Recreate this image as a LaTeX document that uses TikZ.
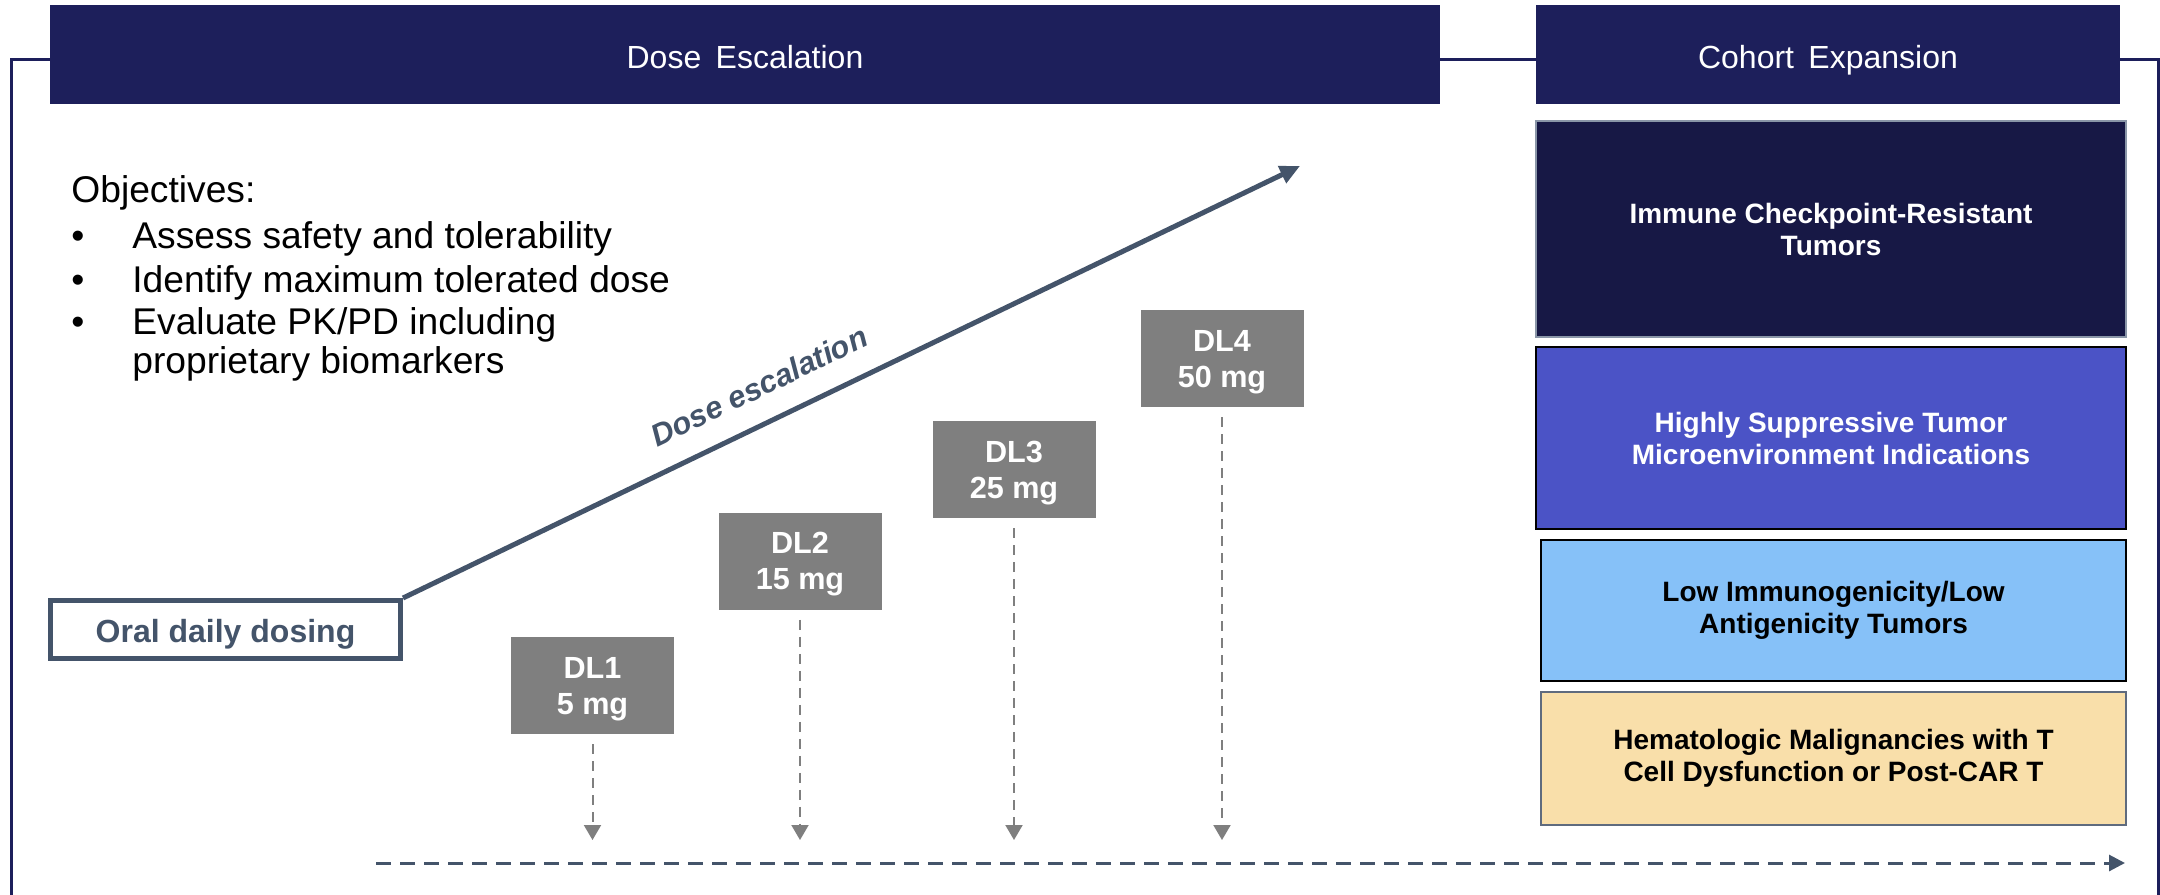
\documentclass[tikz,border=0pt]{standalone}
\usepackage{fontspec}
\setmainfont{Liberation Sans}
\usetikzlibrary{arrows.meta}
\definecolor{navy}{HTML}{1D1F5B}
\definecolor{deepnavy}{HTML}{171845}
\definecolor{violetblue}{HTML}{4B53C6}
\definecolor{skyblue}{HTML}{86C1F8}
\definecolor{sand}{HTML}{F9DFAA}
\definecolor{slate}{HTML}{44546A}
\definecolor{dlgray}{HTML}{7F7F7F}
\definecolor{boxedge}{HTML}{8A96A8}
\definecolor{sandedge}{HTML}{5F6B7E}
\tikzset{
 hdr/.style={fill=navy, text=white, inner sep=0pt, minimum height=49.5pt, text height=13.5pt, text depth=0pt, font=\fontsize{16}{19}\selectfont},
 frame/.style={draw=navy, line width=1.5pt},
 cohortbox/.style={inner sep=0pt, align=center, font=\bfseries\fontsize{14}{16}\selectfont, line width=1pt},
 dlbox/.style={fill=dlgray, text=white, inner sep=0pt, minimum width=81.5pt, minimum height=48.5pt, align=center, text depth=0pt, font=\bfseries\fontsize{15.3}{18}\selectfont},
 dlarrow/.style={draw=dlgray, line width=1pt, dash pattern=on 5pt off 3.5pt, -{Triangle[length=7.5pt,width=8.5pt]}},
 objtext/.style={anchor=base west, inner sep=0pt, font=\fontsize{18.6}{22}\selectfont},
}
\begin{document}
\begin{tikzpicture}[x=0.5pt,y=-0.5pt]
\fill[white] (0,0) rectangle (2160,895);
\useasboundingbox (0,0) rectangle (2160,895);

% headers
\node[hdr, minimum width=695pt] (dose) at (745,54.5) {Dose\hspace{0.45em}Escalation};
\node[hdr, minimum width=292pt] (cohort) at (1828,54.5) {Cohort\hspace{0.45em}Expansion};

% frame
\draw[frame] (dose.west |- 0,59) -- (11,59) -- (11,895);
\draw[frame] (dose.east |- 0,59) -- (cohort.west |- 0,59);
\draw[frame] (cohort.east |- 0,59) -- (2158,59) -- (2158,895);

% cohort boxes
\node[cohortbox, fill=deepnavy, draw=boxedge, text=white, minimum width=295pt, minimum height=108pt] (ici) at (1831,229) {Immune Checkpoint-Resistant\\Tumors};
\node[cohortbox, fill=violetblue, draw=black, text=white, minimum width=295pt, minimum height=91pt] (hst) at (1831,438) {Highly Suppressive Tumor\\Microenvironment Indications};
\node[cohortbox, fill=skyblue, draw=black, text=black, minimum width=292.5pt, minimum height=70.5pt] (low) at (1833.5,610.5) {Low Immunogenicity/Low\\Antigenicity Tumors};
\node[cohortbox, fill=sand, draw=sandedge, text=black, minimum width=292.5pt, minimum height=66.5pt] (hem) at (1833.5,758.5) {Hematologic Malignancies with T\\Cell Dysfunction or Post-CAR T};

% objectives
\node[objtext] (objh) at (71,202) {Objectives:};
\node[objtext] (bu1) at (71,248) {\textbullet};
\node[objtext] (ob1) at (132,248) {Assess safety and tolerability};
\node[objtext] (bu2) at (71,292) {\textbullet};
\node[objtext] (ob2) at (132,292) {Identify maximum tolerated dose};
\node[objtext] (bu3) at (71,334) {\textbullet};
\node[objtext] (ob3) at (132,334) {Evaluate PK/PD including};
\node[objtext] (ob4) at (132,373) {proprietary biomarkers};

% oral dosing and escalation arrow
\node[draw=slate, line width=2.5pt, minimum width=175pt, minimum height=29pt, inner sep=0pt, text height=12.5pt, text depth=0pt, text=slate, font=\bfseries\fontsize{16}{19}\selectfont] (oral) at (225.5,629.5) {Oral daily dosing};
\coordinate (tip) at (1300,166);
\draw[slate, line width=2.5pt, -{Triangle[length=10pt,width=9pt]}] (oral.north east) -- (tip);
\node[rotate=25.74, text=slate, inner sep=0pt, font=\bfseries\itshape\fontsize{15.5}{18}\selectfont] (esc) at (759,386) {Dose escalation};

% dose levels
\node[dlbox] (dl1) at (592.5,685.5) {DL1\\5 mg};
\node[dlbox] (dl2) at (800,561) {DL2\\15 mg};
\node[dlbox] (dl3) at (1014,469.5) {DL3\\25 mg};
\node[dlbox] (dl4) at (1222,358.5) {DL4\\50 mg};
\foreach \n in {dl1,dl2,dl3,dl4}
  \draw[dlarrow] ([yshift=-5pt]\n.south) -- (\n.south |- 0,840);

% timeline
\coordinate (tl0) at (376,863);
\coordinate (tl1) at (2125,863);
\draw[slate, line width=1.5pt, dash pattern=on 7.5pt off 4.5pt, -{Triangle[length=8pt,width=8pt]}] (tl0) -- (tl1);
\end{tikzpicture}
\end{document}
